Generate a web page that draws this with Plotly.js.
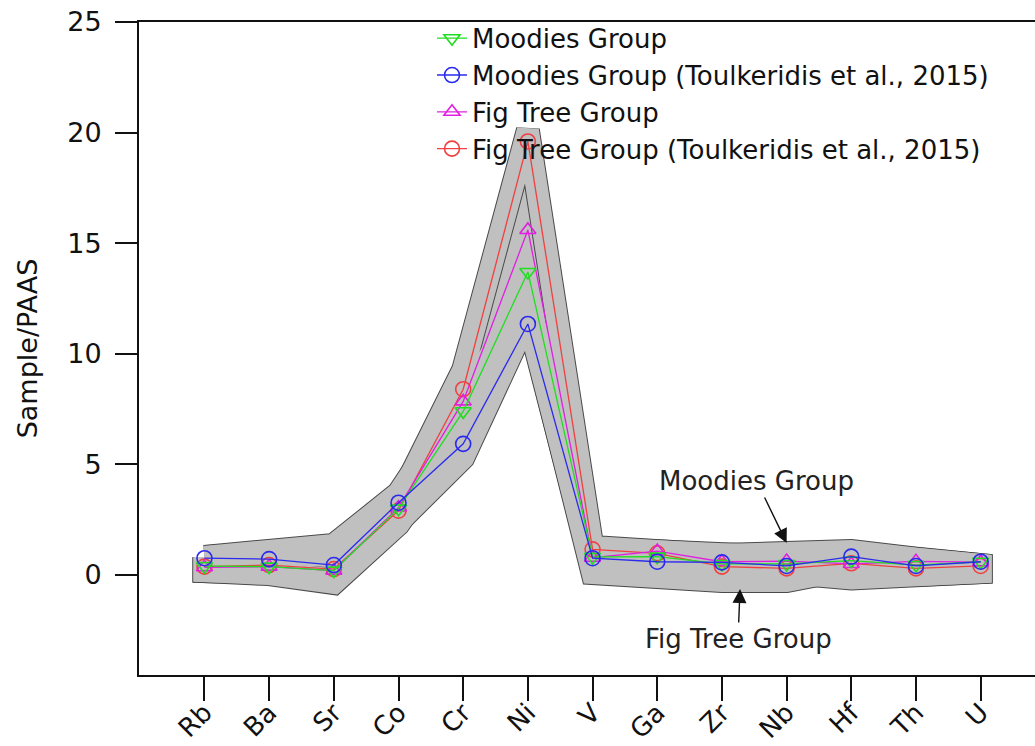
<!DOCTYPE html>
<html>
<head>
<meta charset="utf-8">
<script src="https://cdn.plot.ly/plotly-3.0.1.min.js"></script>
<style>html,body{margin:0;padding:0;background:#fff;}#chart{width:1035px;height:746px;}</style>
</head>
<body>
<div id="chart"></div>
<script>
// Elements (x categories)
const elements = ["Rb","Ba","Sr","Co","Cr","Ni","V","Ga","Zr","Nb","Hf","Th","U"];

// Series (Sample/PAAS)
const moodies            = [0.40, 0.38, 0.20, 3.00, 7.40, 13.70, 0.82, 0.83, 0.50, 0.50, 0.65, 0.45, 0.60];
const moodiesToulkeridis = [0.76, 0.72, 0.45, 3.27, 5.93, 11.35, 0.76, 0.60, 0.57, 0.41, 0.83, 0.41, 0.60];
const figTree            = [0.35, 0.38, 0.20, 3.05, 7.85, 15.60, 0.78, 1.08, 0.60, 0.63, 0.50, 0.62, 0.58];
const figTreeToulkeridis = [0.38, 0.45, 0.27, 2.91, 8.40, 19.60, 1.16, 0.98, 0.38, 0.30, 0.53, 0.30, 0.41];

// Shaded fields (range of each group)
const moodiesFieldMax = [0.82, 1.13, 1.36, 3.70, 8.00, 12.5, 1.27, 1.04, 0.90, 1.00, 1.09, 0.74, 0.45];
const moodiesFieldMin = [0.18, 0.10, -0.20, 2.40, 5.30, 11.6, 0.30, 0.20, 0.10, 0.10, -0.16, 0.00, 0.13];
const figTreeFieldMax = [0.80, 1.00, 0.85, 3.40, 9.27, 20.1, 1.20, 1.00, 0.82, 0.82, 1.00, 0.70, 0.45];
const figTreeFieldMin = [0.18, 0.04, -0.36, 2.30, 6.60, 11.8, 0.09, 0.00, -0.27, -0.27, 0.30, 0.00, 0.13];

const idx = elements.map((_, i) => i);

function ring(maxArr, minArr) {
  const xs = idx.concat(idx.slice().reverse(), [idx[0]]);
  const ys = maxArr.concat(minArr.slice().reverse(), [maxArr[0]]);
  return {xs, ys};
}
const FONT = "DejaVu Sans, Liberation Sans, Arial, sans-serif";
const GREY = "#c0c0c0";
const EDGE = "#4a4a4a";
const SW = 22;

function fieldOuter(maxArr, minArr) {
  const r = ring(maxArr, minArr);
  return {x: r.xs, y: r.ys, type: "scatter", mode: "lines", fill: "toself",
    fillcolor: GREY, line: {color: EDGE, width: SW + 2}, showlegend: false, hoverinfo: "skip"};
}
function fieldInner(maxArr, minArr) {
  const r = ring(maxArr, minArr);
  return {x: r.xs, y: r.ys, type: "scatter", mode: "lines",
    line: {color: GREY, width: SW}, showlegend: false, hoverinfo: "skip"};
}

function series(name, y, color, symbol, size, rank) {
  return {x: idx, y: y, name: name, type: "scatter", mode: "lines+markers",
    legendrank: rank,
    line: {color: color, width: 1.3},
    marker: {symbol: symbol, size: size, color: color, line: {color: color, width: 1.6}}};
}

const data = [
  fieldOuter(moodiesFieldMax, moodiesFieldMin),
  fieldOuter(figTreeFieldMax, figTreeFieldMin),
  fieldInner(moodiesFieldMax, moodiesFieldMin),
  fieldInner(figTreeFieldMax, figTreeFieldMin),
  series("Fig Tree Group (Toulkeridis et al., 2015)", figTreeToulkeridis, "#f04040", "circle-open", 15, 4),
  series("Fig Tree Group", figTree, "#e020e0", "triangle-up-open", 14, 3),
  series("Moodies Group", moodies, "#20dd20", "triangle-down-open", 14, 1),
  series("Moodies Group (Toulkeridis et al., 2015)", moodiesToulkeridis, "#2a2aee", "circle-open", 15, 2)
];

const layout = {
  width: 1035, height: 746,
  margin: {l: 139, r: 0, t: 22, b: 71},
  paper_bgcolor: "#fff", plot_bgcolor: "#fff",
  font: {family: FONT, size: 26, color: "#111"},
  showlegend: true,
  legend: {x: 0.327, xanchor: "left", y: 1.011, yanchor: "top", bgcolor: "rgba(0,0,0,0)",
    font: {family: FONT, size: 26, color: "#111"}, tracegroupgap: 0},
  xaxis: {
    range: [-1.012, 12.84], tickmode: "array", tickvals: idx, ticktext: elements,
    tickangle: -45, ticks: "outside", ticklen: 24, tickwidth: 2, tickcolor: "#111",
    ticklabelstandoff: -14,
    showline: true, linewidth: 2, linecolor: "#111", mirror: true,
    showgrid: false, zeroline: false, tickfont: {family: FONT, size: 26, color: "#111"}
  },
  yaxis: {
    range: [-4.52, 25], tickmode: "array", tickvals: [0,5,10,15,20,25],
    ticks: "outside", ticklen: 22, tickwidth: 2, tickcolor: "#111", ticklabelstandoff: 8,
    showline: true, linewidth: 2, linecolor: "#111",
    showgrid: false, zeroline: false, tickfont: {family: FONT, size: 27, color: "#111"},
    title: {text: "Sample/PAAS", font: {family: FONT, size: 27, color: "#111"}, standoff: 22}
  },
  annotations: [
    {x: 9, y: 1.45, xref: "x", yref: "y", text: "Moodies Group", showarrow: true,
     ax: -30, ay: -62, arrowhead: 2, arrowsize: 2, arrowwidth: 1.4, arrowcolor: "#111",
     font: {family: FONT, size: 26, color: "#222"}},
    {x: 8.28, y: -0.63, xref: "x", yref: "y", text: "Fig Tree Group", showarrow: true,
     ax: -2, ay: 50, arrowhead: 2, arrowsize: 2, arrowwidth: 1.4, arrowcolor: "#111",
     font: {family: FONT, size: 26, color: "#222"}}
  ]
};

Plotly.newPlot("chart", data, layout, {displayModeBar: false, staticPlot: true});
</script>
</body>
</html>
